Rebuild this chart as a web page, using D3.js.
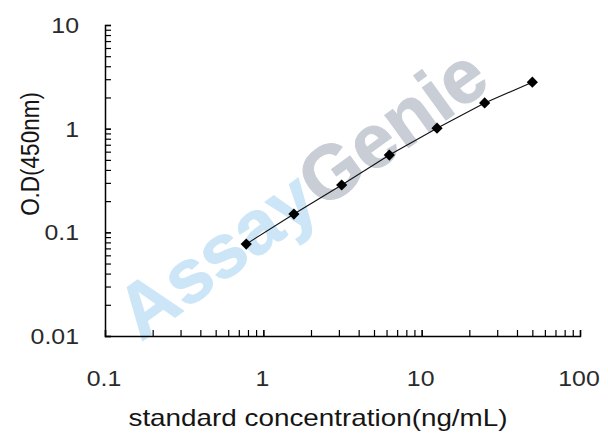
<!DOCTYPE html>
<html>
<head>
<meta charset="utf-8">
<script src="https://cdn.jsdelivr.net/npm/d3@7"></script>
<style>
	body { margin: 0; background: #fff; }
	text { font-family: "Liberation Sans", Arial, sans-serif; }
</style>
</head>
<body>
<svg id="chart" width="608" height="438"></svg>
<script>
// standard curve values
var concentrations = [0.78, 1.56, 3.125, 6.25, 12.5, 25, 50];
var od_values = [0.077, 0.150, 0.286, 0.556, 1.01, 1.77, 2.81];
var x_ticks = [0.1, 1, 10, 100];
var y_ticks = [0.01, 0.1, 1, 10];

var svg = d3.select("#chart");
var stretch = 1.13; // the picture is a bit wider than tall

var x = d3.scaleLog().domain([0.1, 100]).range([105, 580]);
var y = d3.scaleLog().domain([0.01, 10]).range([336, 25]);

// watermark
var wm = svg.append("text")
	.attr("transform", "translate(317,214) rotate(-36)")
	.attr("text-anchor", "middle")
	.style("font-size", "76px")
	.style("font-weight", "bold")
	.attr("stroke-width", 1)
	.attr("stroke-linejoin", "round");
wm.append("tspan").attr("fill", "#cce6f7").attr("stroke", "#cce6f7").text("Assay");
wm.append("tspan").attr("fill", "#c9ced6").attr("stroke", "#c9ced6").text("Genie");

function minor_ticks(scale){
	var ticks = [];
	var dom = scale.domain();
	for (var d = dom[0]; d < dom[1]; d *= 10){
		for (var k = 1; k <= 10; k++){
			ticks.push(d * k);
		}
	}
	return ticks;
}

var x_axis = d3.axisBottom(x)
	.tickValues(minor_ticks(x))
	.tickSize(-6)
	.tickFormat("");
svg.append("g")
	.attr("transform", "translate(0," + y.range()[0] + ")")
	.call(x_axis)
	.call(function(g){
		g.select(".domain").attr("stroke-width", 1.5);
		g.selectAll(".tick line").attr("stroke-width", 1.2);
	});

var y_axis = d3.axisLeft(y)
	.tickValues(minor_ticks(y))
	.tickSize(-6)
	.tickFormat("");
svg.append("g")
	.attr("transform", "translate(" + x.range()[0] + ",0)")
	.call(y_axis)
	.call(function(g){
		g.select(".domain").attr("stroke-width", 1.5);
		g.selectAll(".tick line").attr("stroke-width", 1.2);
	});

// tick labels
svg.append("g").selectAll("text")
	.data(x_ticks)
	.enter().append("text")
	.attr("transform", function(d){ return "translate(" + (x(d) - 1) + ",386) scale(" + stretch + ",1)"; })
	.attr("text-anchor", "middle")
	.style("font-size", "22px")
	.attr("fill", "#2a2a2a")
	.text(function(d){ return d; });

svg.append("g").selectAll("text")
	.data(y_ticks)
	.enter().append("text")
	.attr("transform", function(d){ return "translate(79," + (y(d) + 8) + ") scale(" + stretch + ",1)"; })
	.attr("text-anchor", "end")
	.style("font-size", "22px")
	.attr("fill", "#2a2a2a")
	.text(function(d){ return d; });

// axis titles
svg.append("text")
	.attr("transform", "translate(318,426) scale(1.16,1)")
	.attr("text-anchor", "middle")
	.style("font-size", "24px")
	.attr("fill", "#151515")
	.text("standard concentration(ng/mL)");

svg.append("text")
	.attr("transform", "translate(39,154) scale(" + stretch + ",1) rotate(-90)")
	.attr("text-anchor", "middle")
	.style("font-size", "22.5px")
	.attr("fill", "#151515")
	.text("O.D(450nm)");

// curve
var pts = concentrations.map(function(c, i){ return [c, od_values[i]]; });
var line = d3.line()
	.x(function(d){ return x(d[0]); })
	.y(function(d){ return y(d[1]); });

svg.append("path")
	.datum(pts)
	.attr("d", line)
	.attr("fill", "none")
	.attr("stroke", "#111")
	.attr("stroke-width", 1.1);

svg.append("g").selectAll("path")
	.data(pts)
	.enter().append("path")
	.attr("transform", function(d){ return "translate(" + x(d[0]) + "," + y(d[1]) + ")"; })
	.attr("d", d3.symbol().type(d3.symbolDiamond2).size(80))
	.attr("fill", "#000");
</script>
</body>
</html>
